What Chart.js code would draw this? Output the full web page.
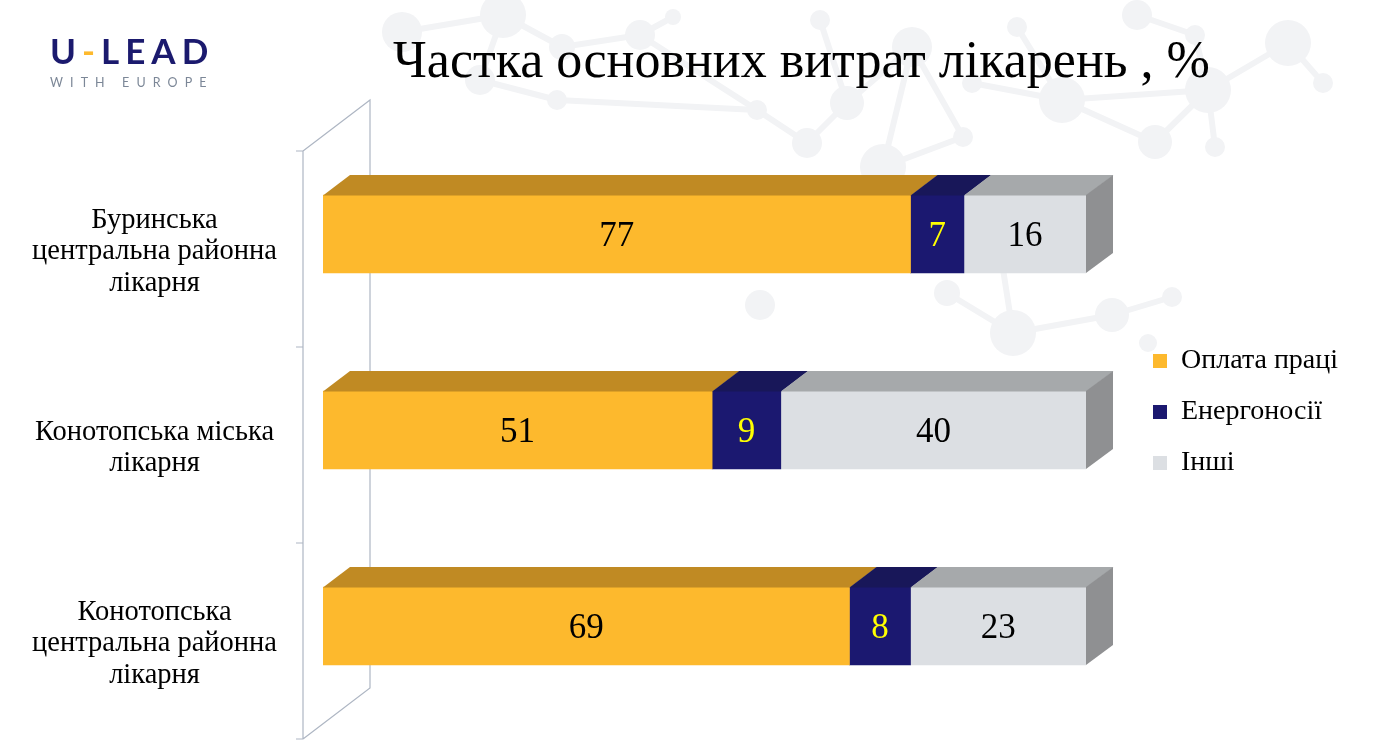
<!DOCTYPE html>
<html>
<head>
<meta charset="utf-8">
<script src="https://cdn.jsdelivr.net/npm/chart.js@4.4.1/dist/chart.umd.min.js"></script>
<style>
  html, body { margin:0; padding:0; background:#ffffff; width:1379px; height:756px; overflow:hidden; }
  #wrap { position:relative; width:1379px; height:756px; }
  #chart { position:absolute; left:0; top:0; }
  #title { position:absolute; left:393px; top:34px; font-family:"Liberation Serif","Times New Roman",serif; font-size:52px; line-height:1; color:#000; white-space:nowrap; }
  #logo1 { position:absolute; left:50px; top:33px; font-family:Lato,"Open Sans",sans-serif; font-weight:700; font-size:35px; line-height:1; letter-spacing:6px; color:#1B1A6E; white-space:nowrap; }
  #logo1 span { color:#FDB92D; }
  #logo2 { position:absolute; left:50px; top:77px; font-family:Lato,"Open Sans",sans-serif; font-size:12.5px; line-height:1; letter-spacing:7.1px; color:#7C8797; white-space:nowrap; }
</style>
</head>
<body>
<div id="wrap">
  <canvas id="chart" width="1379" height="756"></canvas>
  <div id="logo1">U<span>-</span>LEAD</div>
  <div id="logo2">WITH EUROPE</div>
  <div id="title">Частка основних витрат лікарень , %</div>
</div>
<script>
// ---- data ----
const categories = [
  ["Буринська", "центральна районна", "лікарня"],
  ["Конотопська міська", "лікарня"],
  ["Конотопська", "центральна районна", "лікарня"]
];
const seriesNames = ["Оплата праці", "Енергоносії", "Інші"];
const wages  = [77, 51, 69];
const energy = [7, 9, 8];
const other  = [16, 40, 23];

// ---- styles ----
const frontColors = ["#FDB92D", "#1B1870", "#DCDFE3"];
const topColors   = ["#C08A23", "#181759", "#A6A9AB"];
const sideColor   = "#8F9092";
const valueColors = ["#000000", "#FFFF00", "#000000"];
const DX = 27, DY = 20;
const LEG_FONT = 28, LEG_BOX = 14, LEG_PAD = 23;

// faint molecule background decoration
const bgNodes = [
  [402,32,20],[503,15,23],[480,80,15],[557,100,10],[562,47,13],[640,35,15],[673,17,8],
  [757,110,10],[820,20,10],[847,103,17],[807,143,15],[912,47,20],[883,167,23],[963,137,10],
  [972,83,10],[1062,100,23],[1017,27,10],[1137,15,15],[1155,142,17],[1208,90,23],[1195,35,10],
  [1288,43,23],[1323,83,10],[1215,147,10],[947,293,13],[1013,333,23],[1112,315,17],[1172,297,10],
  [760,305,15],[1148,343,9],[1000,250,8]
];
const bgEdges = [
  [0,1],[1,4],[4,5],[5,6],[1,2],[2,3],[5,7],[7,10],[9,10],[8,9],[9,11],[11,12],[11,13],[12,13],
  [14,15],[15,16],[15,18],[15,19],[19,20],[19,21],[21,22],[19,23],[17,20],[24,25],[25,26],[26,27],
  [25,30],[18,19],[3,7]
];

const bgPlugin = {
  id: "bg",
  beforeDraw(chart) {
    const ctx = chart.ctx;
    ctx.save();
    ctx.fillStyle = "#F2F3F5";
    ctx.strokeStyle = "#F2F3F5";
    ctx.lineWidth = 6;
    bgEdges.forEach(([a, b]) => {
      ctx.beginPath();
      ctx.moveTo(bgNodes[a][0], bgNodes[a][1]);
      ctx.lineTo(bgNodes[b][0], bgNodes[b][1]);
      ctx.stroke();
    });
    bgNodes.forEach(([x, y, r]) => {
      ctx.beginPath(); ctx.arc(x, y, r, 0, Math.PI * 2); ctx.fill();
    });
    ctx.restore();
  }
};

const wallPlugin = {
  id: "wall",
  beforeDatasetsDraw(chart) {
    const ctx = chart.ctx, ca = chart.chartArea;
    const n = chart.data.labels.length;
    const band = (ca.bottom - ca.top) / n;
    const fx = ca.left - 20, ftop = ca.top + 15, fbot = ca.bottom + 15;
    const bx = fx + 67, btop = ftop - 51, bbot = fbot - 51;
    ctx.save();
    ctx.strokeStyle = "#AEB6C3";
    ctx.lineWidth = 1.2;
    ctx.beginPath();
    ctx.moveTo(fx, ftop); ctx.lineTo(fx, fbot);
    ctx.moveTo(fx, ftop); ctx.lineTo(bx, btop); ctx.lineTo(bx, bbot); ctx.lineTo(fx, fbot);
    for (let i = 0; i <= n; i++) {
      const y = ftop + i * band;
      ctx.moveTo(fx - 7, y); ctx.lineTo(fx, y);
    }
    ctx.stroke();
    ctx.restore();
  }
};

const bar3dPlugin = {
  id: "bar3d",
  afterDatasetsDraw(chart) {
    const ctx = chart.ctx;
    const last = chart.data.datasets.length - 1;
    ctx.save();
    chart.data.datasets.forEach((ds, di) => {
      const meta = chart.getDatasetMeta(di);
      meta.data.forEach((bar) => {
        const p = bar.getProps(["x", "y", "base", "height"], true);
        const top = p.y - p.height / 2, bottom = p.y + p.height / 2;
        const x0 = Math.min(p.base, p.x), x1 = Math.max(p.base, p.x);
        ctx.fillStyle = topColors[di];
        ctx.beginPath();
        ctx.moveTo(x0, top + 0.5); ctx.lineTo(x0 + DX, top - DY);
        ctx.lineTo(x1 + DX + 0.5, top - DY); ctx.lineTo(x1 + 0.5, top + 0.5);
        ctx.closePath(); ctx.fill();
        if (di === last) {
          ctx.fillStyle = sideColor;
          ctx.beginPath();
          ctx.moveTo(x1, top); ctx.lineTo(x1 + DX, top - DY);
          ctx.lineTo(x1 + DX, bottom - DY); ctx.lineTo(x1, bottom);
          ctx.closePath(); ctx.fill();
        }
      });
    });
    // value labels
    ctx.font = "35px 'Liberation Serif'";
    ctx.textAlign = "center";
    ctx.textBaseline = "alphabetic";
    chart.data.datasets.forEach((ds, di) => {
      const meta = chart.getDatasetMeta(di);
      meta.data.forEach((bar, i) => {
        const p = bar.getProps(["x", "y", "base"], true);
        ctx.fillStyle = valueColors[di];
        ctx.fillText(String(ds.data[i]), (p.x + p.base) / 2, p.y + 0.34 * 35);
      });
    });
    ctx.restore();
  }
};

// legend width so that the legend starts at x = 1130
const mctx = document.createElement("canvas").getContext("2d");
mctx.font = LEG_FONT + "px 'Liberation Serif'";
const maxTw = Math.max(...seriesNames.map(s => mctx.measureText(s).width));
const legendW = LEG_PAD + LEG_BOX + LEG_FONT / 2 + maxTw + 10;
const padRight = Math.max(0, 1379 - 1130 - legendW);

const seriesData = [wages, energy, other];

new Chart(document.getElementById("chart"), {
  type: "bar",
  data: {
    labels: categories,
    datasets: seriesNames.map((name, i) => ({
      label: name,
      data: seriesData[i],
      backgroundColor: frontColors[i],
      borderWidth: 0,
      barThickness: 78
    }))
  },
  options: {
    indexAxis: "y",
    responsive: false,
    animation: false,
    layout: { padding: { left: 0, right: padRight, top: 100, bottom: 32 } },
    scales: {
      x: {
        stacked: true, min: 0, max: 100, position: "top",
        grid: { display: false, drawTicks: false }, border: { display: false },
        ticks: { display: false },
        afterFit(s) { s.height = 36; s.paddingLeft = 0; s.paddingRight = 0; }
      },
      y: {
        stacked: true,
        grid: { display: false, drawTicks: false }, border: { display: false },
        ticks: {
          color: "#000",
          font: { family: "'Liberation Serif'", size: 28.5, lineHeight: 1.09 },
          crossAlign: "center", padding: 46, labelOffset: 18
        },
        afterFit(s) { s.width = 323; s.paddingTop = 0; s.paddingBottom = 0; }
      },
      gap: {
        type: "linear", position: "right", display: true,
        grid: { display: false, drawTicks: false }, border: { display: false },
        ticks: { display: false },
        afterFit(s) { s.width = 44; s.paddingTop = 0; s.paddingBottom = 0; }
      }
    },
    plugins: {
      legend: {
        position: "right", align: "center",
        labels: {
          boxWidth: LEG_BOX, boxHeight: LEG_BOX, padding: LEG_PAD, color: "#000",
          font: { family: "'Liberation Serif'", size: LEG_FONT }
        }
      },
      tooltip: { enabled: false },
      title: { display: false }
    }
  },
  plugins: [bgPlugin, wallPlugin, bar3dPlugin]
});
</script>
</body>
</html>
